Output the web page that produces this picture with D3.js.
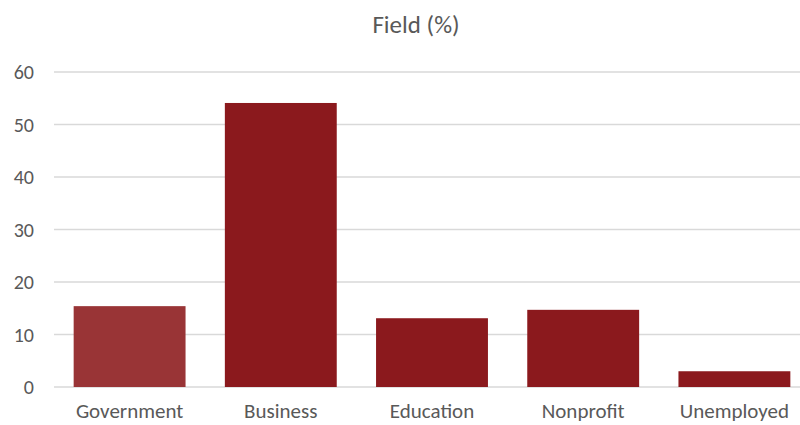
<!DOCTYPE html>
<html>
<head>
<meta charset="utf-8">
<script src="https://cdn.jsdelivr.net/npm/d3@7"></script>
<style>
  body { margin: 0; background: #fff; }
  text { font-family: Carlito, "Open Sans", "Noto Sans", sans-serif; fill: #595959; }
</style>
</head>
<body>
<svg id="chart" width="800" height="425"></svg>
<script>
const categories = ["Government", "Business", "Education", "Nonprofit", "Unemployed"];
const values = [15.4, 54.1, 13.1, 14.7, 3.0];
const barColors = ["#993436", "#8b191d", "#8b191d", "#8b191d", "#8b191d"];
const yTicks = [0, 10, 20, 30, 40, 50, 60];

const svg = d3.select("#chart");
const W = 800, H = 425;
const margin = {top: 72, right: -10, bottom: 38, left: 54};

const x = d3.scaleBand()
    .domain(categories)
    .range([margin.left, W - margin.right])
    .paddingInner(0.26)
    .paddingOuter(0.13);

const y = d3.scaleLinear()
    .domain([0, 60])
    .range([H - margin.bottom, margin.top]);

// gridlines
svg.append('g')
    .selectAll('line')
    .data(yTicks)
    .join('line')
    .attr('x1', margin.left)
    .attr('x2', W)
    .attr('y1', d => y(d))
    .attr('y2', d => y(d))
    .attr('stroke', '#d9d9d9')
    .attr('stroke-width', 1.3);

// y labels
svg.append('g')
    .selectAll('text')
    .data(yTicks)
    .join('text')
    .text(d => d)
    .attr('x', 34)
    .attr('y', d => y(d))
    .attr('dy', '0.35em')
    .attr('text-anchor', 'end')
    .style('font-size', '20px');

// bars
svg.append('g')
    .selectAll('rect')
    .data(values)
    .join('rect')
    .attr('x', (d, i) => x(categories[i]))
    .attr('width', x.bandwidth())
    .attr('y', d => y(d))
    .attr('height', d => y(0) - y(d))
    .attr('fill', (d, i) => barColors[i]);

// category labels
svg.append('g')
    .selectAll('text')
    .data(categories)
    .join('text')
    .text(d => d)
    .attr('x', d => x(d) + x.bandwidth() / 2)
    .attr('y', 411)
    .attr('dy', '0.35em')
    .attr('text-anchor', 'middle')
    .style('font-size', '21px');

svg.append('text')
    .text('Field (%)')
    .attr('x', 416)
    .attr('y', 24)
    .attr('dy', '0.35em')
    .attr('text-anchor', 'middle')
    .style('font-size', '25px');
</script>
</body>
</html>
